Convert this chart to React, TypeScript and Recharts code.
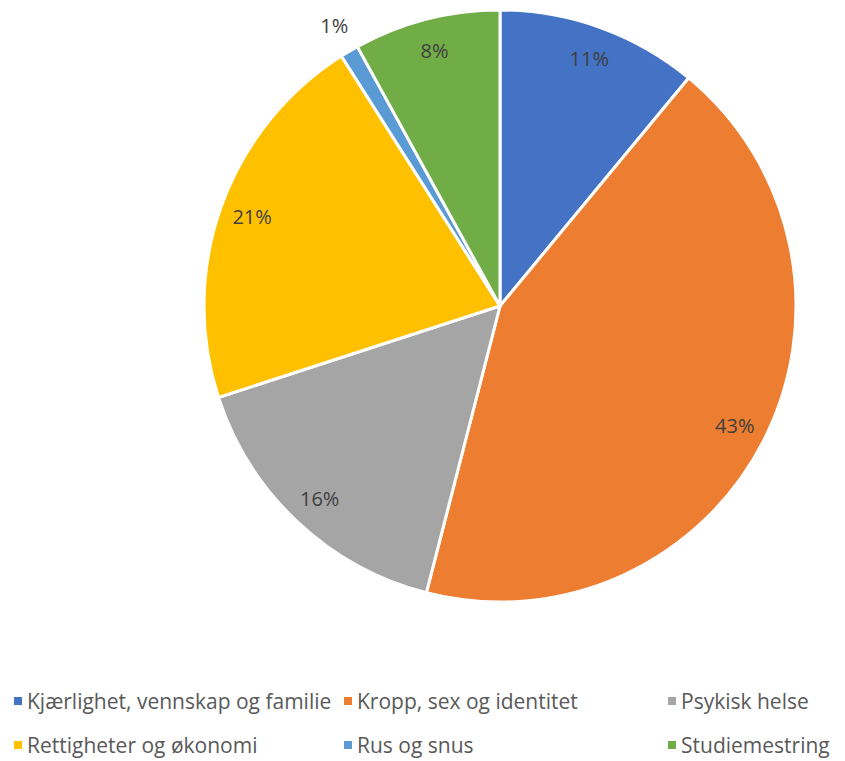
import React from "react";
import { PieChart, Pie, Cell, Legend } from "recharts";

const categories = [
  "Kjærlighet, vennskap og familie",
  "Kropp, sex og identitet",
  "Psykisk helse",
  "Rettigheter og økonomi",
  "Rus og snus",
  "Studiemestring",
];
const values = [11, 43, 16, 21, 1, 8];
const colors = ["#4472C4", "#ED7D31", "#A5A5A5", "#FFC000", "#5B9BD5", "#70AD47"];

const data = categories.map((name, i) => ({ name, value: values[i] }));

const RAD = Math.PI / 180;
const FONT = "'Open Sans', 'Noto Sans', sans-serif";

const renderLabel = (props: any) => {
  const { cx, cy, midAngle, outerRadius, percent } = props;
  const r = percent < 0.02 ? outerRadius * 1.1 : outerRadius * 0.89;
  const x = cx + r * Math.cos(-midAngle * RAD);
  const y = cy + r * Math.sin(-midAngle * RAD);
  return (
    <text
      x={x}
      y={y}
      fill="#404040"
      textAnchor="middle"
      dominantBaseline="central"
      fontSize={20}
      fontFamily={FONT}
    >
      {`${Math.round(percent * 100)}%`}
    </text>
  );
};

const colX = [14, 344, 668];
const rowY = [701, 745];

const renderLegend = () => (
  <div style={{ position: "relative", width: 845, height: 90 }}>
    {categories.map((c, i) => {
      const col = i % 3;
      const row = Math.floor(i / 3);
      return (
        <div
          key={c}
          style={{
            position: "absolute",
            left: colX[col],
            top: rowY[row] - 680 - 15,
            height: 30,
            display: "flex",
            alignItems: "center",
            whiteSpace: "nowrap",
            fontFamily: FONT,
            fontSize: 21,
            color: "#595959",
          }}
        >
          <span
            style={{
              display: "inline-block",
              width: 8,
              height: 8,
              background: colors[i],
              marginRight: 5,
            }}
          />
          {c}
        </div>
      );
    })}
  </div>
);

export default function App() {
  return (
    <div style={{ position: "absolute", left: 0, top: 0, width: 845, height: 761, background: "#fff" }}>
      <PieChart width={845} height={761} margin={{ top: 0, right: 0, bottom: 0, left: 0 }}>
        <Pie
          data={data}
          dataKey="value"
          nameKey="name"
          cx={500}
          cy={306}
          outerRadius={296}
          startAngle={90}
          endAngle={-270}
          stroke="#ffffff"
          strokeWidth={3}
          label={renderLabel}
          labelLine={false}
          isAnimationActive={false}
        >
          {data.map((d, i) => (
            <Cell key={d.name} fill={colors[i]} />
          ))}
        </Pie>
        <Legend
          content={renderLegend}
          wrapperStyle={{ position: "absolute", left: 0, top: 680, width: 845, height: 90 }}
        />
      </PieChart>
    </div>
  );
}
